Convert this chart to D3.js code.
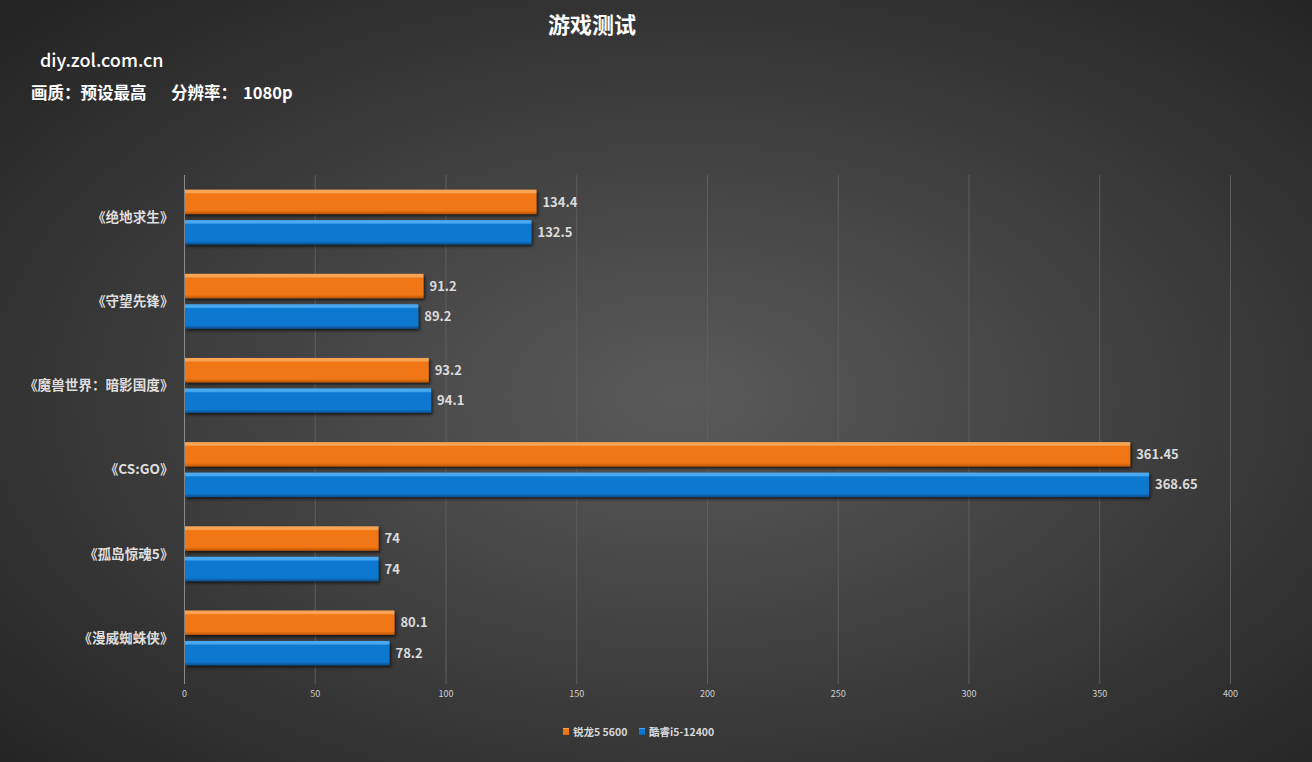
<!DOCTYPE html>
<html><head><meta charset="utf-8">
<script src="https://cdn.jsdelivr.net/npm/d3@7"></script>
<style>
html,body{margin:0;padding:0;background:#333;}
svg{display:block;}
text{font-family:"Noto Sans CJK SC","Noto Sans",sans-serif;}
</style></head>
<body>
<svg id="chart" width="1312" height="762"></svg>
<script>
const categories = ["《绝地求生》","《守望先锋》","《魔兽世界：暗影国度》","《CS:GO》","《孤岛惊魂5》","《漫威蜘蛛侠》"];
const seriesNames = ["锐龙5 5600","酷睿i5-12400"];
const ryzenValues = [134.4, 91.2, 93.2, 361.45, 74, 80.1];
const intelValues = [132.5, 89.2, 94.1, 368.65, 74, 78.2];
const valueLabels = [["134.4","91.2","93.2","361.45","74","80.1"],["132.5","89.2","94.1","368.65","74","78.2"]];
const xTicks = [0,50,100,150,200,250,300,350,400];

const W=1312,H=762;
const svg=d3.select("#chart");
const defs=svg.append("defs");
const bg=defs.append("radialGradient").attr("id","bg").attr("cx","52%").attr("cy","52%").attr("r","70%");
bg.append("stop").attr("offset","0%").attr("stop-color","#5a5a5a");
bg.append("stop").attr("offset","100%").attr("stop-color","#252525");
svg.append("rect").attr("width",W).attr("height",H).attr("fill","url(#bg)");

const colors=[{base:"#f07612",top:"#f8a452",dark:"#b85508"},{base:"#0a78d0",top:"#48a8f0",dark:"#0a4f8c"}];
colors.forEach((c,i)=>{
  const g=defs.append("linearGradient").attr("id","bar"+i).attr("x1",0).attr("y1",0).attr("x2",0).attr("y2",1);
  g.append("stop").attr("offset","0%").attr("stop-color",c.top);
  g.append("stop").attr("offset","12%").attr("stop-color",c.top);
  g.append("stop").attr("offset","18%").attr("stop-color",c.base);
  g.append("stop").attr("offset","86%").attr("stop-color",c.base);
  g.append("stop").attr("offset","100%").attr("stop-color",c.dark);
});
const f=defs.append("filter").attr("id","shadow").attr("x","-5%").attr("y","-30%").attr("width","115%").attr("height","180%");
f.append("feDropShadow").attr("dx",1.5).attr("dy",2).attr("stdDeviation",1.5).attr("flood-color","#000").attr("flood-opacity",0.65);

const x=d3.scaleLinear().domain([0,400]).range([184,1230]);
const y=d3.scaleBand().domain(categories).range([175,680]).paddingInner(0).paddingOuter(0);
const y1=d3.scaleBand().domain([0,1]).range([0,y.bandwidth()]).paddingInner(0.197).paddingOuter(0.48);

// axis labels
const gAxis=svg.append("g").attr("transform","translate(0,680)")
  .call(d3.axisBottom(x).tickValues(xTicks).tickSize(0).tickPadding(11).tickFormat(d3.format("d")));
gAxis.select(".domain").remove();
gAxis.selectAll("text").attr("fill","#cfcfcf").attr("font-size","9px").attr("font-family","'Liberation Sans Narrow','DejaVu Sans Condensed',sans-serif");
// gridlines
svg.append("g").selectAll("line").data(xTicks).join("line")
  .attr("x1",d=>x(d)+0.5).attr("x2",d=>x(d)+0.5).attr("y1",175).attr("y2",684)
  .attr("stroke",d=>d===0?"#8a8a8a":"#5e5e5e").attr("stroke-width",1);

const series=[ryzenValues,intelValues];
series.forEach((vals,si)=>{
  const g=svg.append("g");
  g.selectAll("rect").data(vals).join("rect")
    .attr("x",x(0)+1).attr("y",(d,i)=>y(categories[i])+y1(si))
    .attr("width",d=>x(d)-x(0)).attr("height",y1.bandwidth())
    .attr("fill","url(#bar"+si+")").attr("filter","url(#shadow)");
  g.selectAll("text").data(vals).join("text")
    .attr("x",d=>x(d)+7).attr("y",(d,i)=>y(categories[i])+y1(si)+y1.bandwidth()/2)
    .attr("dy","0.36em").attr("fill","#dcdcdc").attr("font-size","13px").attr("font-weight","bold")
    .text((d,i)=>valueLabels[si][i]);
});

// category labels
svg.append("g").selectAll("text").data(categories).join("text")
  .attr("x",173.5).attr("y",d=>y(d)+y.bandwidth()/2).attr("dy","0.36em")
  .attr("text-anchor","end").attr("fill","#dedede").attr("font-size","13.6px").attr("font-weight","bold")
  .text(d=>d);

// titles
svg.append("text").attr("x",592).attr("y",33).attr("text-anchor","middle").attr("fill","#fff")
  .attr("font-size","22px").attr("font-weight","bold").text("游戏测试");
svg.append("text").attr("x",40).attr("y",67).attr("fill","#fff").attr("font-size","18px").attr("font-weight","500")
  .attr("font-family","'Noto Sans','Open Sans',sans-serif").text("diy.zol.com.cn");
svg.append("text").attr("x",31).attr("y",99).attr("fill","#fff").attr("font-size","16.5px").attr("font-weight","bold")
  .text("画质：预设最高");
svg.append("text").attr("x",171).attr("y",99).attr("fill","#fff").attr("font-size","16.5px").attr("font-weight","bold")
  .text("分辨率：");
svg.append("text").attr("x",243).attr("y",99).attr("fill","#fff").attr("font-size","16.5px").attr("font-weight","bold")
  .text("1080p");

// legend
const legend=svg.append("g");
const legX=[563,639];
seriesNames.forEach((n,i)=>{
  legend.append("rect").attr("x",legX[i]).attr("y",728).attr("width",6).attr("height",7).attr("fill","url(#bar"+i+")");
  legend.append("text").attr("x",legX[i]+10).attr("y",732).attr("dy","0.36em").attr("fill","#d8d8d8")
    .attr("font-size","10.5px").attr("font-weight","bold").text(n);
});
</script>
</body></html>
